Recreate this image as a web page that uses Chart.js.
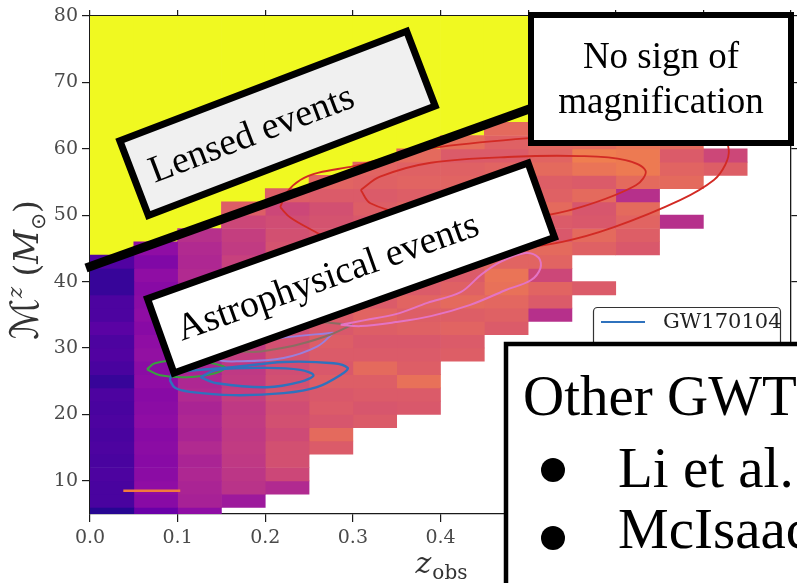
<!DOCTYPE html>
<html>
<head>
<meta charset="utf-8">
<script src="https://cdn.jsdelivr.net/npm/chart.js@4.4.1/dist/chart.umd.min.js"></script>
<style>
    html, body { margin: 0; padding: 0; background: #fff; }
    #wrap { width: 797px; height: 583px; position: relative; overflow: hidden; }
</style>
</head>
<body>
<div id="wrap"><canvas id="chart" width="797" height="583"></canvas></div>
<script>
// redshift bins (left edges), 0.05 wide; chirp-mass rows are 2 Msun tall
const zBinLeft = [0, 0.05, 0.1, 0.15, 0.2, 0.25, 0.3, 0.35, 0.4, 0.45, 0.5, 0.55, 0.6, 0.65, 0.7];
const binWidth = 0.05;
const rowHeight = 2;

// first row (lower edge) of every column
const colBottom = [4, 4, 4, 6, 8, 14, 18, 20, 28, 32, 34, 38, 44, 48, 56];

// colour value of each cell, bottom to top (0..1 on plasma), null = empty bin
const col0 = [0.05, 0.12, 0.12, 0.13, 0.12, 0.13, 0.12, 0.13, 0.12, 0.13, 0.08, 0.12, 0.14, 0.13, 0.16, 0.13, 0.13, 0.08, 0.08, 0.14];
const col1 = [0.2, 0.28, 0.3, 0.29, 0.28, 0.29, 0.28, 0.3, 0.29, 0.28, 0.3, 0.29, 0.31, 0.3, 0.28, 0.3, 0.29, 0.28, 0.3, 0.26, 0.3];
const col2 = [0.3, 0.37, 0.38, 0.39, 0.38, 0.4, 0.38, 0.39, 0.38, 0.4, 0.39, 0.38, 0.4, 0.39, 0.41, 0.4, 0.39, 0.38, 0.4, 0.39, 0.4, 0.42];
const col3 = [0.34, 0.43, 0.44, 0.45, 0.46, 0.45, 0.46, 0.45, 0.47, 0.46, 0.45, 0.47, 0.46, 0.48, 0.47, 0.46, 0.48, 0.47, 0.48, 0.46, 0.47, 0.5, 0.58];
const col4 = [0.4, 0.5, 0.53, 0.53, 0.51, 0.53, 0.52, 0.54, 0.53, 0.52, 0.54, 0.53, 0.52, 0.54, 0.53, 0.55, 0.53, 0.52, 0.54, 0.53, 0.52, 0.5, 0.58];
const col5 = [0.57, 0.62, 0.55, 0.57, 0.56, 0.58, 0.56, 0.57, 0.58, 0.56, 0.57, 0.55, 0.57, 0.56, 0.58, 0.56, 0.55, 0.54, 0.53, 0.57, 0.6];
const col6 = [0.57, 0.55, 0.57, 0.58, 0.62, 0.57, 0.56, 0.58, 0.6, 0.57, 0.58, 0.56, 0.57, 0.59, 0.57, 0.56, 0.58, 0.57, 0.59, 0.6];
const col7 = [0.56, 0.57, 0.64, 0.58, 0.57, 0.56, 0.59, 0.58, 0.6, 0.57, 0.58, 0.6, 0.58, 0.59, 0.57, 0.6, 0.58, 0.6, 0.59, 0.62];
const col8 = [0.58, 0.57, 0.6, 0.58, 0.62, 0.59, 0.57, 0.6, 0.58, 0.61, 0.59, 0.6, 0.57, 0.6, 0.59, 0.57, 0.63];
const col9 = [0.57, 0.59, 0.61, 0.64, 0.65, 0.6, 0.58, 0.6, 0.57, 0.59, 0.62, 0.58, 0.6, 0.57, 0.59, 0.62];
const col10 = [0.42, 0.57, 0.6, 0.5, 0.6, 0.62, 0.56, 0.57, 0.62, 0.59, 0.58, 0.62, 0.6, 0.61, 0.6];
const col11 = [0.57, null, null, 0.59, 0.62, 0.56, 0.55, 0.62, 0.57, 0.65, 0.68, 0.62, 0.6];
const col12 = [0.56, 0.58, 0.6, 0.62, 0.42, 0.62, 0.67, 0.67, 0.65];
const col13 = [0.42, null, null, 0.62, 0.6, 0.57, 0.62];
const col14 = [0.58, 0.5];
const colValues = [col0, col1, col2, col3, col4, col5, col6, col7, col8, col9, col10, col11, col12, col13, col14];

// upper edge of the populated bins; above it the "lensed" region (max colour)
const lensedFrom = [44, 46, 48, 52, 54, 56, 58, 60, 62, 64];

const xTicks = [0, 0.1, 0.2, 0.3, 0.4, 0.5, 0.6, 0.7];
const xTicksTop = [0, 0.1, 0.2, 0.3, 0.4, 0.5, 0.6, 0.7, 0.8];
const yTicks = [10, 20, 30, 40, 50, 60, 70, 80];

// posterior contours [z, Mc]
const redOuter = [[0.217, 51.2], [0.225, 53.5], [0.24, 55.3], [0.261, 56.4], [0.301, 57.4], [0.354, 59.2], [0.4, 60.3], [0.501, 61.6], [0.606, 62.5], [0.686, 62.8], [0.722, 61.9], [0.729, 59.8], [0.725, 57.6], [0.712, 55.3], [0.674, 52.3], [0.598, 48.2], [0.539, 46.0], [0.457, 44.5], [0.377, 43.7], [0.297, 44.8], [0.257, 47.5], [0.229, 49.6], [0.217, 51.2]];
const redInner = [[0.309, 53.8], [0.331, 55.8], [0.389, 57.9], [0.483, 58.8], [0.56, 58.9], [0.611, 58.3], [0.634, 56.7], [0.623, 54.5], [0.56, 51.2], [0.503, 49.6], [0.434, 49.0], [0.366, 50.0], [0.32, 51.8], [0.309, 53.8]];
const pinkLoop = [[0.286, 33.5], [0.314, 34.2], [0.349, 35.1], [0.385, 36.8], [0.423, 38.4], [0.446, 41.0], [0.469, 43.0], [0.497, 44.3], [0.512, 43.6], [0.514, 42.0], [0.503, 40.2], [0.474, 38.7], [0.434, 36.5], [0.389, 34.8], [0.349, 33.9], [0.309, 33.3], [0.286, 33.5]];
const greyLoop = [[0.299, 33.5], [0.274, 32.0], [0.24, 30.6], [0.211, 29.8], [0.186, 29.4], [0.154, 30.0], [0.183, 32.0], [0.24, 33.9], [0.299, 33.5]];
const purpleLoop = [[0.278, 32.3], [0.259, 30.2], [0.221, 28.5], [0.171, 28.0], [0.145, 28.3], [0.154, 30.0], [0.217, 31.5], [0.278, 32.3]];
const blueOuter = [[0.091, 25.2], [0.097, 24.0], [0.114, 23.4], [0.163, 22.9], [0.221, 23.2], [0.259, 24.1], [0.289, 26.2], [0.294, 27.0], [0.278, 27.7], [0.221, 27.9], [0.163, 27.1], [0.126, 26.7], [0.095, 26.2], [0.091, 25.2]];
const blueInner = [[0.126, 25.6], [0.145, 24.7], [0.202, 24.1], [0.24, 24.9], [0.255, 25.9], [0.24, 26.7], [0.202, 27.0], [0.145, 26.7], [0.126, 25.6]];
const greenLoop = [[0.065, 26.8], [0.074, 27.7], [0.103, 28.2], [0.131, 27.9], [0.154, 27.1], [0.143, 26.2], [0.111, 25.6], [0.08, 25.9], [0.065, 26.8]];
const orangeLine = [[0.038, 8.5], [0.103, 8.5]];

const plasmaStops = ['#0d0887', '#41049d', '#6a00a8', '#8f0da4', '#b12a90', '#cc4778', '#e16462', '#f2844b', '#fca636', '#fcce25', '#f0f921'];

function plasma(t) {
    const p = Math.max(0, Math.min(1, t)) * 10;
    const i = Math.min(9, Math.floor(p));
    const f = p - i;
    const a = plasmaStops[i], b = plasmaStops[i + 1];
    const ch = (s, k) => parseInt(s.substr(1 + 2 * k, 2), 16);
    const c = [0, 1, 2].map(k => Math.round(ch(a, k) + (ch(b, k) - ch(a, k)) * f));
    return `rgb(${c[0]},${c[1]},${c[2]})`;
}

const contours = [
    { label: 'GW170104', pts: blueOuter, color: '#2f72bd', width: 2.4 },
    { label: '', pts: blueInner, color: '#2f72bd', width: 2.4 },
    { label: '', pts: redOuter, color: '#d22a24', width: 1.8 },
    { label: '', pts: redInner, color: '#d22a24', width: 1.8 },
    { label: '', pts: pinkLoop, color: '#e474c4', width: 2 },
    { label: '', pts: greyLoop, color: '#8a6d62', width: 2 },
    { label: '', pts: purpleLoop, color: '#9a7fdc', width: 2 },
    { label: '', pts: greenLoop, color: '#3a9e40', width: 2 },
    { label: '', pts: orangeLine, color: '#f27a3c', width: 2.6 }
];

const datasets = [];

contours.forEach(c => {
    datasets.push({
        type: 'line',
        label: c.label,
        data: c.pts.map(p => ({ x: p[0], y: p[1] })),
        borderColor: c.color,
        borderWidth: c.width,
        pointRadius: 0,
        tension: 0.35,
        fill: false,
        xAxisID: 'x',
        yAxisID: 'y',
        order: 0
    });
});

colValues.forEach((vals, c) => {
    const pts = [];
    const colors = [];
    vals.forEach((v, i) => {
        if (v === null) return;
        const lo = colBottom[c] + i * rowHeight;
        pts.push({ x: zBinLeft[c] + binWidth / 2, y: [lo, lo + rowHeight] });
        colors.push(plasma(v));
    });
    datasets.push({ type: 'bar', data: pts, backgroundColor: colors, xAxisID: 'x', yAxisID: 'y', order: 2 });
});

datasets.push({
    type: 'bar',
    data: lensedFrom.map((top, c) => ({ x: zBinLeft[c] + binWidth / 2, y: [top, 80] })),
    backgroundColor: plasma(1),
    xAxisID: 'x',
    yAxisID: 'y',
    order: 2
});

const tickFont = { family: 'DejaVu Serif', size: 19 };
const axisLine = { color: '#1a1a1a', width: 1.3 };

// slide annotations drawn over the figure
const overlay = {
    id: 'overlay',
    afterDraw(chart) {
        const ctx = chart.ctx;
        ctx.save();

        // axis labels
        ctx.fillStyle = '#333';
        ctx.textBaseline = 'alphabetic';
        ctx.font = 'italic 30px "DejaVu Serif"';
        const zw = ctx.measureText('z').width;
        ctx.font = '20px "DejaVu Serif"';
        const ow = ctx.measureText('obs').width;
        let xs = 441 - (zw + ow) / 2;
        ctx.font = 'italic 30px "DejaVu Serif"';
        ctx.fillText('z', xs, 573);
        ctx.font = '20px "DejaVu Serif"';
        ctx.fillText('obs', xs + zw + 1, 579);

        ctx.save();
        ctx.translate(38, 270);
        ctx.rotate(-Math.PI / 2);
        const parts = [
            { t: '\u2133', f: 'italic 39px "DejaVu Serif", "DejaVu Sans"', dy: 0 },
            { t: 'z', f: 'italic 21px "DejaVu Serif"', dy: -16 },
            { t: ' (', f: '33px "DejaVu Serif"', dy: 0 },
            { t: 'M', f: 'italic 33px "DejaVu Serif"', dy: 0 },
            { t: '\u2299', f: '20px "DejaVu Sans"', dy: 7 },
            { t: ')', f: '33px "DejaVu Serif"', dy: 0 }
        ];
        let total = 0;
        parts.forEach(p => { ctx.font = p.f; p.w = ctx.measureText(p.t).width; total += p.w; });
        let px = -total / 2;
        parts.forEach(p => { ctx.font = p.f; ctx.fillText(p.t, px, p.dy); px += p.w; });
        ctx.restore();

        // dividing line
        ctx.strokeStyle = '#000';
        ctx.lineWidth = 9;
        ctx.beginPath();
        ctx.moveTo(86, 268);
        ctx.lineTo(532, 108);
        ctx.stroke();

        const rotBox = (cx, cy, w, h, deg, fill, text, dx) => {
            ctx.save();
            ctx.translate(cx, cy);
            ctx.rotate(deg * Math.PI / 180);
            ctx.fillStyle = fill;
            ctx.fillRect(-w / 2, -h / 2, w, h);
            ctx.lineWidth = 7;
            ctx.strokeStyle = '#000';
            ctx.strokeRect(-w / 2, -h / 2, w, h);
            ctx.fillStyle = '#000';
            ctx.font = '38px "Liberation Serif"';
            ctx.textAlign = 'center';
            ctx.textBaseline = 'middle';
            ctx.fillText(text, dx, 2);
            ctx.restore();
        };
        rotBox(277.5, 123.3, 307, 80, -20.9, '#f0f0f0', 'Lensed events', -28);
        rotBox(351, 268, 404, 79, -19.6, '#ffffff', 'Astrophysical events', -25);

        // "no sign" box
        ctx.fillStyle = '#fff';
        ctx.fillRect(531, 15, 260, 128);
        ctx.lineWidth = 6;
        ctx.strokeStyle = '#000';
        ctx.strokeRect(531, 15, 260, 128);
        ctx.fillStyle = '#000';
        ctx.font = '37px "Liberation Serif"';
        ctx.textAlign = 'center';
        ctx.textBaseline = 'alphabetic';
        ctx.fillText('No sign of', 661, 68);
        ctx.fillText('magnification', 661, 113);

        // legend of the figure
        ctx.beginPath();
        ctx.roundRect(593.5, 307.5, 187, 60, 4);
        ctx.fillStyle = '#fff';
        ctx.fill();
        ctx.lineWidth = 1.2;
        ctx.strokeStyle = '#333';
        ctx.stroke();
        ctx.strokeStyle = contours[0].color;
        ctx.lineWidth = 2;
        ctx.beginPath();
        ctx.moveTo(601, 322);
        ctx.lineTo(645, 322);
        ctx.stroke();
        ctx.fillStyle = '#222';
        ctx.font = '21px "DejaVu Serif"';
        ctx.textAlign = 'left';
        ctx.textBaseline = 'middle';
        ctx.fillText(chart.data.datasets[0].label, 663, 323);

        // other catalogue box
        ctx.fillStyle = '#fff';
        ctx.fillRect(506, 344, 300, 260);
        ctx.lineWidth = 4.5;
        ctx.strokeStyle = '#000';
        ctx.strokeRect(506, 344, 300, 260);
        ctx.fillStyle = '#000';
        ctx.font = '57px "Liberation Serif"';
        ctx.textBaseline = 'alphabetic';
        ctx.fillText('Other GWT', 523, 415);
        ctx.fillText('Li et al.', 618, 487);
        ctx.fillText('McIsaac', 618, 548);
        [470, 538].forEach(y => {
            ctx.beginPath();
            ctx.arc(553, y, 12, 0, Math.PI * 2);
            ctx.fill();
        });

        ctx.restore();
    }
};

new Chart(document.getElementById('chart'), {
    type: 'bar',
    data: { datasets },
    options: {
        responsive: false,
        animation: false,
        events: [],
        layout: { padding: 0 },
        plugins: { legend: { display: false }, tooltip: { enabled: false } },
        datasets: {
            bar: { barPercentage: 1, categoryPercentage: 1, grouped: false, borderWidth: 0, borderSkipped: false }
        },
        scales: {
            x: {
                type: 'linear', position: 'bottom', min: 0, max: 0.8, offset: false,
                afterBuildTicks: s => { s.ticks = xTicks.map(v => ({ value: v })); },
                afterFit: s => { s.height = 69; },
                ticks: { callback: v => v.toFixed(1), font: tickFont, color: '#4a4a4a', padding: 5, maxRotation: 0, autoSkip: false },
                grid: { drawOnChartArea: false, offset: false, tickLength: 8, color: '#1a1a1a', lineWidth: 1.2 },
                border: axisLine
            },
            x2: {
                type: 'linear', position: 'top', min: 0, max: 0.8, offset: false,
                afterBuildTicks: s => { s.ticks = xTicksTop.map(v => ({ value: v })); },
                afterFit: s => { s.height = 16; },
                ticks: { display: false },
                grid: { drawOnChartArea: false, offset: false, tickLength: 6, color: '#1a1a1a', lineWidth: 1.2 },
                border: axisLine
            },
            y: {
                type: 'linear', position: 'left', min: 5, max: 80,
                afterBuildTicks: s => { s.ticks = yTicks.map(v => ({ value: v })); },
                afterFit: s => { s.width = 90; },
                ticks: { font: tickFont, color: '#4a4a4a', padding: 4 },
                grid: { drawOnChartArea: false, tickLength: 8, color: '#1a1a1a', lineWidth: 1.2 },
                border: axisLine
            },
            y2: {
                type: 'linear', position: 'right', min: 5, max: 80,
                afterBuildTicks: s => { s.ticks = yTicks.map(v => ({ value: v })); },
                afterFit: s => { s.width = 6; },
                ticks: { display: false },
                grid: { drawOnChartArea: false, tickLength: 6, color: '#1a1a1a', lineWidth: 1.2 },
                border: axisLine
            }
        }
    },
    plugins: [overlay]
});
</script>
</body>
</html>
